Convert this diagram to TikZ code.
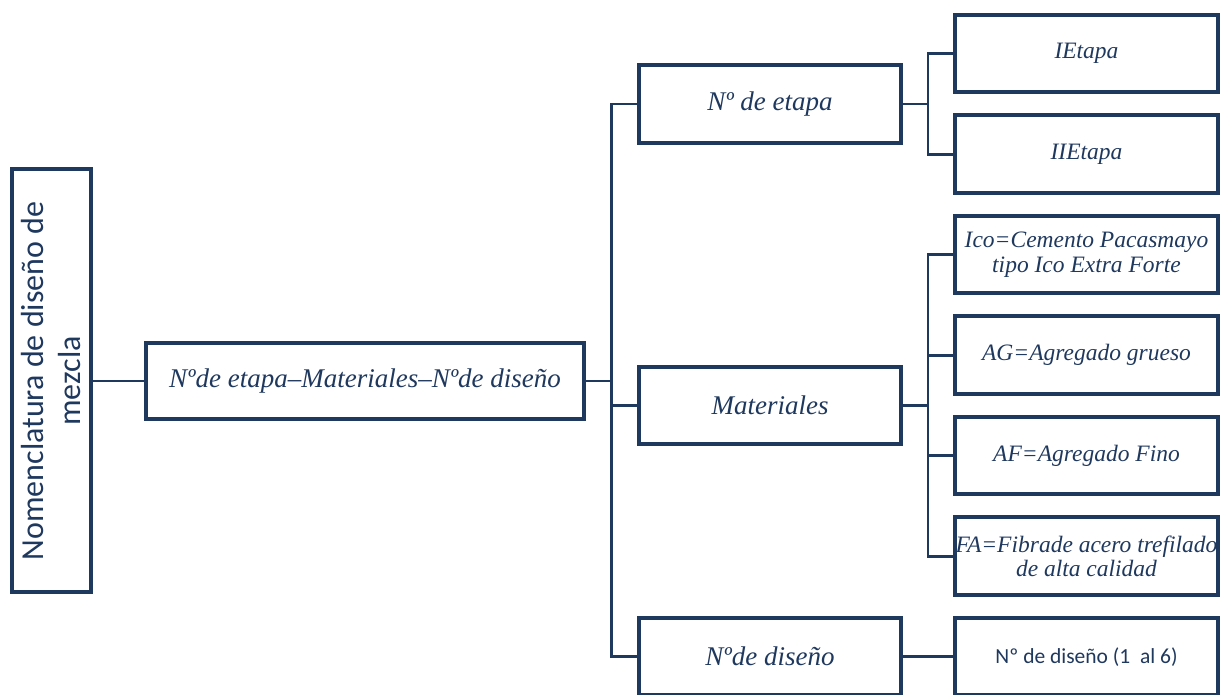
\documentclass[tikz,border=0pt]{standalone}
\usepackage{fontspec}
\setmainfont{Liberation Serif}
\newfontfamily\calibri{Carlito}
\usetikzlibrary{positioning,calc}
\definecolor{navy}{RGB}{31,56,94}

\begin{document}
\begin{tikzpicture}[x=1pt, y=1pt, node distance=19pt,
  box/.style = {draw=navy, line width=4pt, text=navy, align=center, inner sep=0pt},
  nomen/.style = {box, rotate=90, minimum width=423pt, minimum height=79pt, font=\calibri\fontsize{32}{37}\selectfont},
  code/.style = {box, minimum width=438pt, minimum height=76pt, font=\itshape\fontsize{27}{30}\selectfont},
  main/.style = {box, minimum width=262pt, minimum height=77.5pt, font=\itshape\fontsize{27}{30}\selectfont},
  leaf/.style = {box, minimum width=263pt, minimum height=77.5pt, font=\itshape\fontsize{23.5}{24.5}\selectfont},
  link/.style = {draw=navy, line width=2.8pt}]
\useasboundingbox (0,0) rectangle (1224,695);
\clip (0,0) rectangle (1224,695);

% left part
\node[nomen] (nom) at (51.5,314) {Nomenclatura de diseño de\\mezcla};
\node[code] (code) [right=51pt of nom.south] {Nºde etapa–Materiales–Nºde diseño};

% leaves
\node[leaf] (ie) at (1086.5,641.25) {IEtapa};
\node[leaf] (iie) [below=of ie] {IIEtapa};
\node[leaf] (ico) [below=of iie] {Ico=Cemento Pacasmayo\\tipo Ico Extra Forte};
\node[leaf] (ag) [below=of ico] {AG=Agregado grueso};
\node[leaf] (af) [below=of ag] {AF=Agregado Fino};
\node[leaf] (fa) [below=of af] {FA=Fibrade acero trefilado\\de alta calidad};
\node[leaf] (nd) [below=of fa] {\calibri\upshape\fontsize{21.5}{24}\selectfont Nº de diseño (1\ \ al 6)};

% middle column
\coordinate (m1) at ($(ie.west)!0.5!(iie.west)$);
\coordinate (m2) at ($(ico.west)!0.5!(fa.west)$);
\node[main] (etapa) [left=50pt of m1] {Nº de etapa};
\node[main] (mat) [left=50pt of m2] {Materiales};
\node[main] (dis) [left=50pt of nd.west] {Nºde diseño};

% connectors
\draw[link] (nom.south) -- (code.west);
\foreach \n in {etapa, mat, dis}
  \draw[link] (code.east) -- ++(25.5,0) |- (\n.west);
\foreach \n in {ie, iie}
  \draw[link] (etapa.east) -- ++(25,0) |- (\n.west);
\foreach \n in {ico, ag, af, fa}
  \draw[link] (mat.east) -- ++(25,0) |- (\n.west);
\draw[link] (dis.east) -- (nd.west);
\end{tikzpicture}
\end{document}
